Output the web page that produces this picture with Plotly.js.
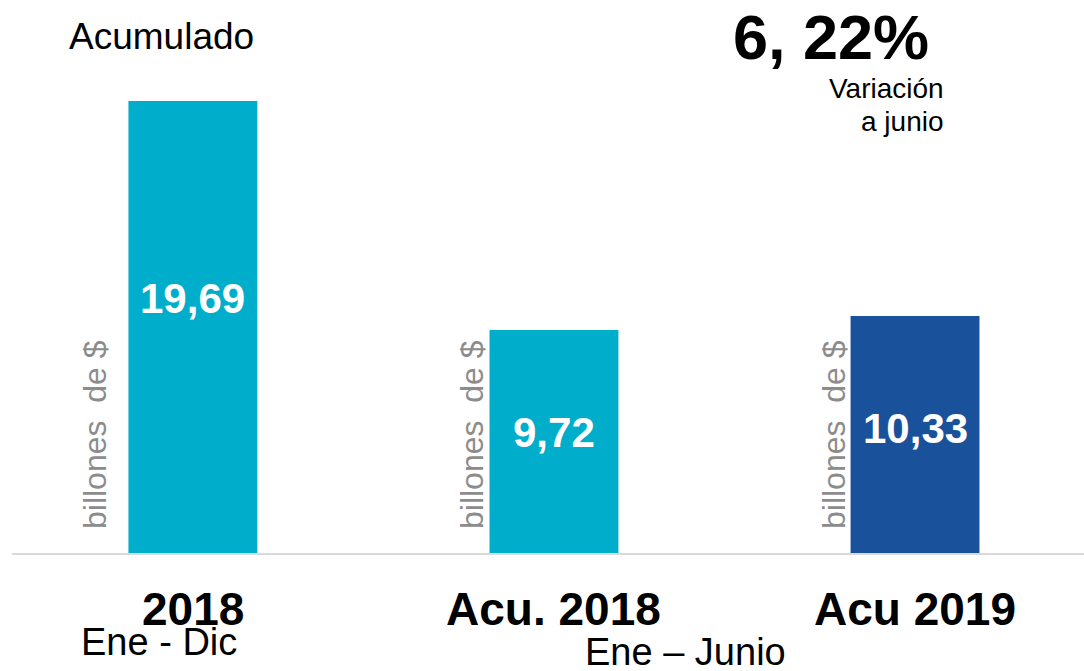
<!DOCTYPE html>
<html><head><meta charset="utf-8">
<script src="https://cdn.plot.ly/plotly-3.0.1.min.js"></script>
<style>html,body{margin:0;padding:0;background:#fff}#chart{width:1084px;height:671px}</style>
</head><body><div id="chart"></div>
<script>
const categories = ["2018", "Acu. 2018", "Acu 2019"];
const values = [19.69, 9.72, 10.33];
const valueLabels = ["19,69", "9,72", "10,33"];
const barColors = ["#00AECB", "#00AECB", "#1A519B"];
const periodLabels = ["Ene - Dic", "Ene – Junio"];
const unitLabel = "billones  de $";
const variation = "6, 22%";

const FONT = "Arial, 'Liberation Sans', Helvetica, sans-serif";
const H = 671 - 48 - 118;
const py = p => (553 - p) / H;

const annotations = [];
categories.forEach((c, i) => {
  annotations.push({x: i, y: py(609), xref: 'x', yref: 'paper', text: '<b>' + c + '</b>', showarrow: false,
    xanchor: 'center', yanchor: 'middle', font: {family: FONT, size: 46, color: '#000'}});
});
const labelPix = [298, 432, 428];
valueLabels.forEach((t, i) => {
  annotations.push({x: i, y: py(labelPix[i]), xref: 'x', yref: 'paper', text: '<b>' + t + '</b>', showarrow: false,
    xanchor: 'center', yanchor: 'middle', font: {family: FONT, size: 42, color: '#fff'}});
});
const unitX = [95, 472, 834];
unitX.forEach(px => {
  annotations.push({x: (px - 12) / 1072, y: py(435), xref: 'paper', yref: 'paper', text: unitLabel, textangle: -90,
    showarrow: false, xanchor: 'center', yanchor: 'middle', font: {family: FONT, size: 32, color: '#8c8c8c'}});
});
annotations.push({x: (159 - 12) / 1072, y: py(642), xref: 'paper', yref: 'paper', text: periodLabels[0], showarrow: false,
  xanchor: 'center', yanchor: 'middle', font: {family: FONT, size: 38, color: '#000'}});
annotations.push({x: (685 - 12) / 1072, y: py(652), xref: 'paper', yref: 'paper', text: periodLabels[1], showarrow: false,
  xanchor: 'center', yanchor: 'middle', font: {family: FONT, size: 38, color: '#000'}});
annotations.push({x: (161 - 12) / 1072, y: py(37), xref: 'paper', yref: 'paper', text: 'Acumulado', showarrow: false,
  xanchor: 'center', yanchor: 'middle', font: {family: FONT, size: 37, color: '#000'}});
annotations.push({x: (831 - 12) / 1072, y: py(37), xref: 'paper', yref: 'paper', text: '<b>' + variation + '</b>', showarrow: false,
  xanchor: 'center', yanchor: 'middle', font: {family: FONT, size: 63, color: '#000'}});
annotations.push({x: (946 - 12) / 1072, y: py(89), xref: 'paper', yref: 'paper', text: 'Variación', showarrow: false,
  xanchor: 'right', yanchor: 'middle', font: {family: FONT, size: 28, color: '#000'}});
annotations.push({x: (946 - 12) / 1072, y: py(121), xref: 'paper', yref: 'paper', text: 'a junio', showarrow: false,
  xanchor: 'right', yanchor: 'middle', font: {family: FONT, size: 28, color: '#000'}});

const trace = {
  type: 'bar', x: categories.map((c, i) => i), y: values, width: 0.357,
  marker: {color: barColors}, hoverinfo: 'none'
};

const layout = {
  width: 1084, height: 671, margin: {l: 12, r: 0, t: 48, b: 118},
  paper_bgcolor: '#fff', plot_bgcolor: '#fff', showlegend: false,
  xaxis: {range: [-0.501, 2.468], showticklabels: false, showgrid: false, zeroline: false,
    showline: true, linecolor: '#d9d9d9', linewidth: 2, ticks: ''},
  yaxis: {range: [0, 22], visible: false, showgrid: false, zeroline: false},
  annotations: annotations
};
Plotly.newPlot('chart', [trace], layout, {displayModeBar: false, staticPlot: true});
</script></body></html>
